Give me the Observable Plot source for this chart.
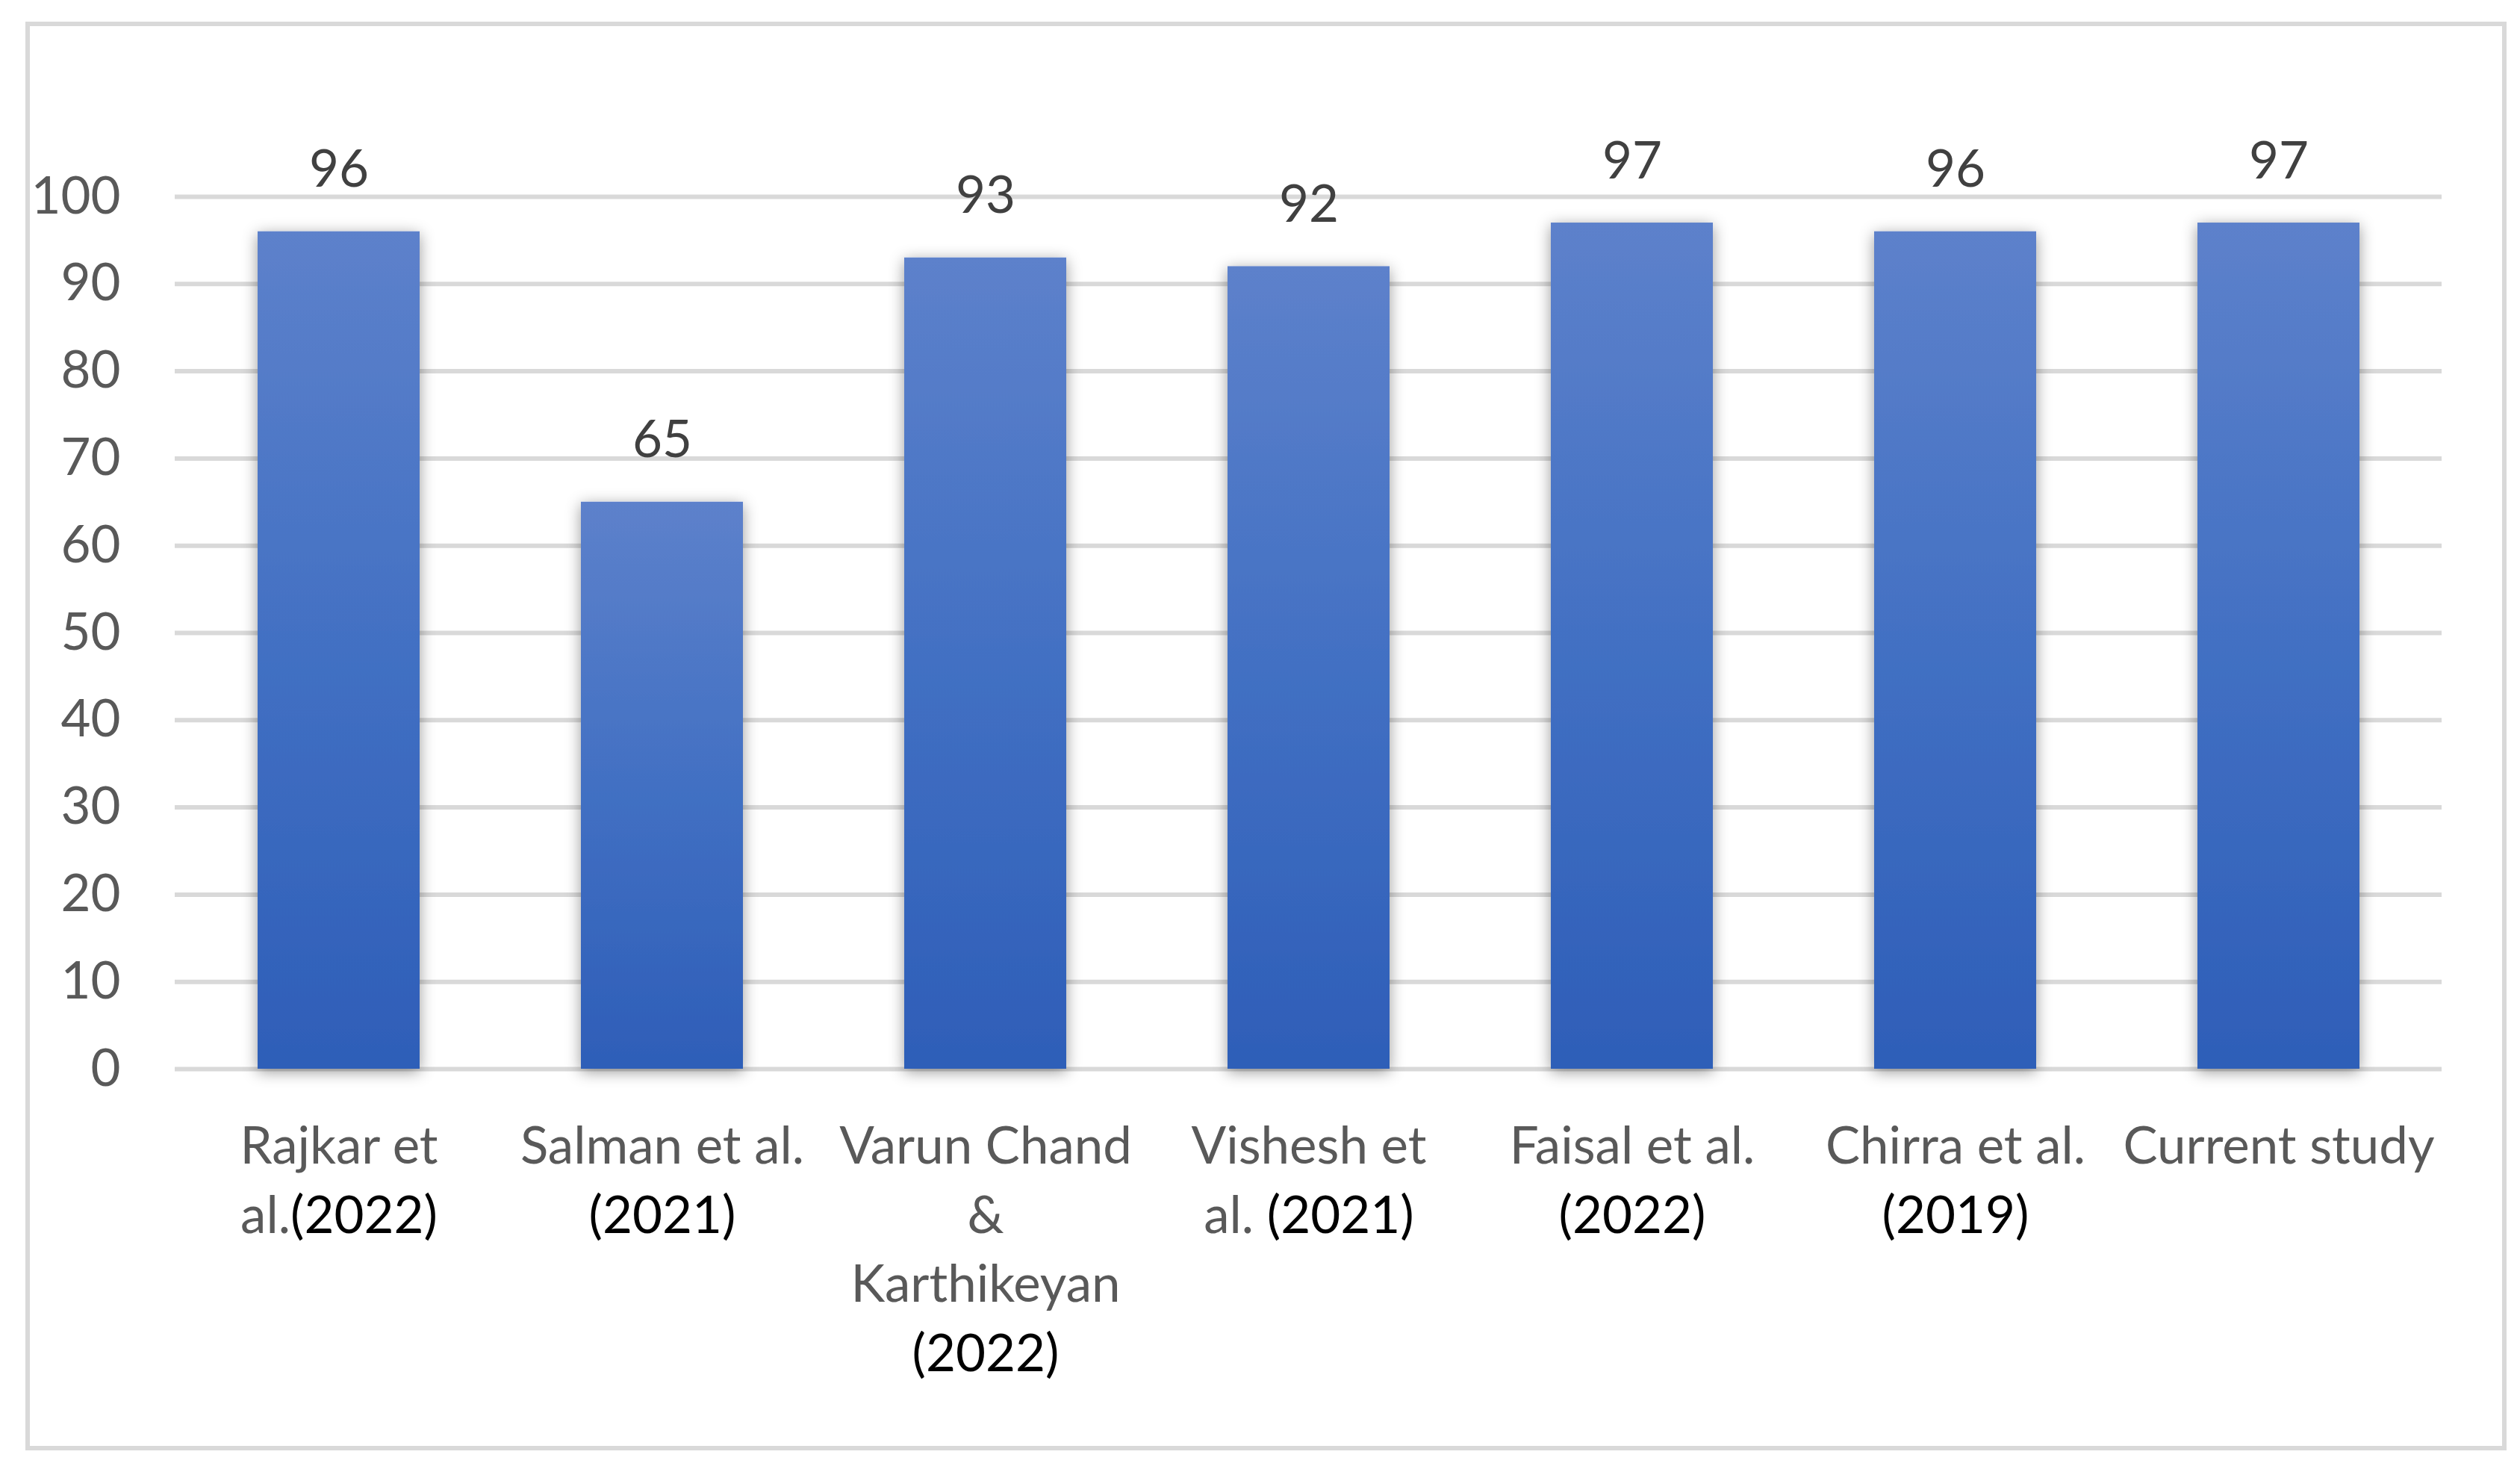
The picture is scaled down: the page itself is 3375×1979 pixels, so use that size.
<!DOCTYPE html>
<html>
<head>
<meta charset="utf-8">
<script src="https://cdn.jsdelivr.net/npm/d3@7"></script>
<script src="https://cdn.jsdelivr.net/npm/@observablehq/plot@0.6"></script>
<style>
  html, body { margin: 0; padding: 0; background: #ffffff; }
  #wrap { position: relative; width: 3375px; height: 1979px; overflow: hidden; }
  #border { position: absolute; left: 34px; top: 29px; width: 3311px; height: 1901px; border: 6px solid #d9d9d9; }
  #chart { position: absolute; left: 0; top: 0; }
</style>
</head>
<body>
<div id="wrap"><div id="border"></div><div id="chart"></div></div>
<script>
// ---- data ----
const studies = ["Rajkar et al. (2022)", "Salman et al. (2021)", "Varun Chand & Karthikeyan (2022)", "Vishesh et al. (2021)", "Faisal et al. (2022)", "Chirra et al. (2019)", "Current study"];
const tickLabels = ["Rajkar et\nal.(2022)", "Salman et al.\n(2021)", "Varun Chand\n&\nKarthikeyan\n(2022)", "Vishesh et\nal. (2021)", "Faisal et al.\n(2022)", "Chirra et al.\n(2019)", "Current study"];
const accuracy = [96, 65, 93, 92, 97, 96, 97];
const yTicks = [0, 10, 20, 30, 40, 50, 60, 70, 80, 90, 100];

const rows = studies.map((s, i) => ({study: s, value: accuracy[i]}));
const labelOf = new Map(studies.map((s, i) => [s, tickLabels[i]]));

const FONT = "Lato, 'Open Sans', sans-serif";
const FS = 69;

const chart = Plot.plot({
  width: 3375,
  height: 1979,
  marginLeft: 234,
  marginRight: 105,
  marginTop: 263,
  marginBottom: 548,
  style: {fontFamily: FONT, background: "transparent", overflow: "visible"},
  x: {domain: studies, paddingInner: 0.5, paddingOuter: 0.25, label: null},
  y: {domain: [0, 100], label: null},
  marks: [
    Plot.gridY(yTicks, {stroke: "#d9d9d9", strokeOpacity: 1, strokeWidth: 6}),
    Plot.barY(rows, {x: "study", y: "value", fill: "url(#barGrad)"}),
    Plot.text(rows, {x: "study", y: "value", text: d => String(d.value), lineAnchor: "bottom", dy: -60, fontSize: FS, fill: "#404040"}),
    Plot.axisY(yTicks, {tickSize: 0, tickPadding: 73, fontSize: FS, fill: "#595959", tickFormat: d => String(d)}),
    Plot.axisX({tickSize: 0, tickPadding: 61, fontSize: FS, fill: "#595959", lineHeight: 1.34, tickFormat: d => labelOf.get(d)})
  ]
});

// gradient + soft shadow definitions for the bars
const ns = "http://www.w3.org/2000/svg";
const defs = document.createElementNS(ns, "defs");
defs.innerHTML = `
  <linearGradient id="barGrad" x1="0" y1="0" x2="0" y2="1">
    <stop offset="0" stop-color="#5d81cb"/>
    <stop offset="0.5" stop-color="#4270c3"/>
    <stop offset="1" stop-color="#2e5eb8"/>
  </linearGradient>
  <filter id="barShadow" x="-30%" y="-10%" width="160%" height="125%">
    <feDropShadow dx="0" dy="4" stdDeviation="10" flood-color="#000" flood-opacity="0.4"/>
  </filter>`;
chart.insertBefore(defs, chart.firstChild);
const barGroup = chart.querySelector('g[aria-label="bar"]');
if (barGroup) barGroup.setAttribute("filter", "url(#barShadow)");

// years shown in black as in the source
chart.querySelectorAll('g[aria-label="x-axis tick label"] tspan, g[aria-label="x-axis tick label"] text').forEach(el => {
  if (el.children.length) return;
  const m = el.textContent.match(/^(.*?)(\(\d{4}\))$/);
  if (!m) return;
  el.textContent = m[1];
  const t = document.createElementNS(ns, "tspan");
  t.setAttribute("fill", "#000000");
  t.textContent = m[2];
  el.appendChild(t);
});

document.getElementById("chart").appendChild(chart);
</script>
</body>
</html>
